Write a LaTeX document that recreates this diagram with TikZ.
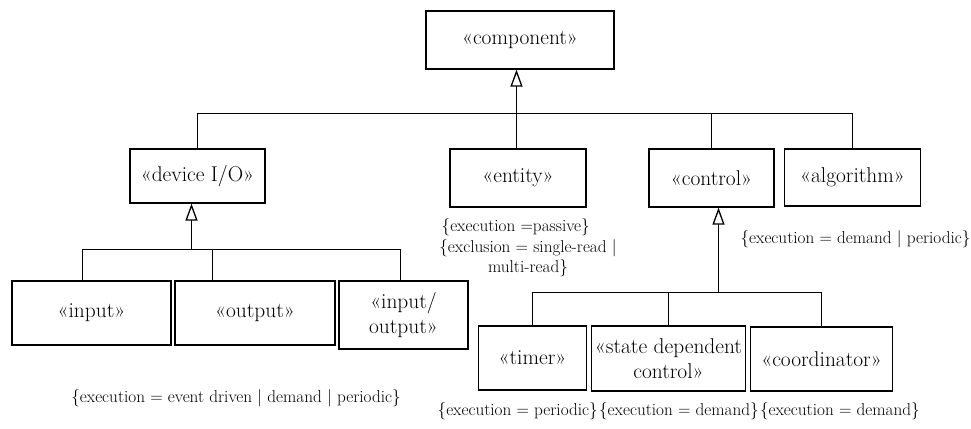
\documentclass[tikz,border=0pt]{standalone}
\usepackage{fontspec}
\usetikzlibrary{positioning,arrows.meta}

\begin{document}
\begin{tikzpicture}[x=1pt, y=-1pt, line width=1.3pt,
  stereo/.style={draw, rectangle, inner sep=0pt, align=center, font=\fontsize{21.4}{24.5}\selectfont},
  cons/.style={inner sep=0pt, align=center, font=\fontsize{17.2}{20.5}\selectfont},
  gen/.style={-{Triangle[open, length=17pt, width=12pt]}}]
  \useasboundingbox (0,0) rectangle (971,428);
  % Top level and its subclasses
  \node[stereo, minimum width=188pt, minimum height=58pt] (component) at (520,40) {«component»};
  \node[stereo, minimum width=135pt, minimum height=54pt] (device) at (197.5,176) {«device I/O»};
  \node[stereo, minimum width=136pt, minimum height=58pt] (entity) at (518,178) {«entity»};
  \node[stereo, minimum width=125pt, minimum height=58pt] (control) at (711.5,178) {«control»};
  \node[stereo, minimum width=136pt, minimum height=57pt] (algorithm) at (852.5,177.5) {«algorithm»};
  % Device I/O subclasses
  \node[stereo, minimum width=159pt, minimum height=64pt] (input) at (91.5,313) {«input»};
  \node[stereo, minimum width=160pt, minimum height=64pt] (output) at (255,313) {«output»};
  \node[stereo, minimum width=129pt, minimum height=68pt] (inout) at (403.5,315) {«input/\\output»};
  % Control subclasses
  \node[stereo, minimum width=108pt, minimum height=64pt] (timer) at (532.5,358) {«timer»};
  \node[stereo, minimum width=154pt, minimum height=65pt] (state) at (668.5,358.5) {«state dependent\\control»};
  \node[stereo, minimum width=142pt, minimum height=64pt] (coordinator) at (821.5,359) {«coordinator»};

  % Generalization to component
  \coordinate (topbar) at (516.5,113.5);
  \draw[gen] (entity.north -| topbar) -- (component.south -| topbar);
  \draw (device.north) |- (topbar) -| (algorithm.north);
  \draw (control.north) -- (control.north |- topbar);

  % Generalization to device I/O
  \coordinate (iobar) at (191.5,249.5);
  \coordinate (iobarL) at (82.5,249.5);
  \coordinate (iobarM) at (212.5,249.5);
  \coordinate (iobarR) at (400.5,249.5);
  \draw[gen] (iobar) -- (iobar |- device.south);
  \draw (iobarL |- input.north) -- (iobarL) -- (iobarR) -- (iobarR |- inout.north);
  \draw (iobarM) -- (iobarM |- output.north);

  % Generalization to control
  \coordinate (ctrlbar) at (718.5,292.5);
  \draw[gen] (ctrlbar) -- (ctrlbar |- control.south);
  \draw (timer.north) |- (ctrlbar) -| (coordinator.north);
  \draw (state.north) -- (state.north |- ctrlbar);

  % Constraints
  \node[cons] (iocons) at (236,398) {\{execution = event driven | demand | periodic\}};
  \node[cons, anchor=west] (entityexec) at (441,227) {\{execution =passive\}};
  \node[cons] (entityexcl) at (528,258) {\{exclusion = single-read |\\multi-read\}};
  \node[cons] (ctrlcons) at (855.5,239) {\{execution = demand | periodic\}};
  \node[cons, anchor=west] (timercons) at (437,411) {\{execution = periodic\}};
  \node[cons, right=0pt of timercons] (statecons) {\{execution = demand\}};
  \node[cons, right=0pt of statecons] (coordcons) {\{execution = demand\}};
\end{tikzpicture}
\end{document}
